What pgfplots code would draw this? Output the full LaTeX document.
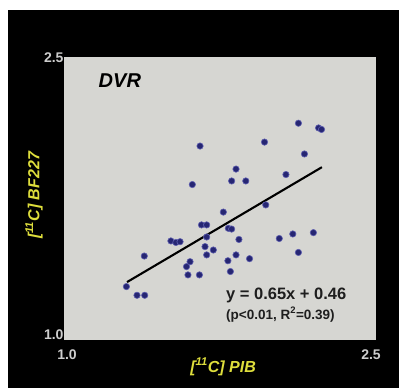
\documentclass[border=0pt]{standalone}
\usepackage{pgfplots}
\pgfplotsset{compat=1.18}
\usepackage{fontspec}
\setmainfont{Liberation Sans}
\definecolor{plotgray}{RGB}{214,214,210}
\definecolor{dotblue}{RGB}{38,38,115}
\definecolor{dotedge}{RGB}{95,95,175}
\definecolor{labyellow}{RGB}{222,222,60}
\definecolor{ticklab}{RGB}{205,205,205}
\definecolor{eqtext}{RGB}{30,30,30}
\begin{document}
\begin{tikzpicture}[x=1pt,y=1pt]
\fill[white] (0,0) rectangle (399,388);
\fill[black] (8,0) rectangle (399,378);
\begin{axis}[
  at={(64pt,48pt)}, anchor=south west,
  scale only axis, width=312pt, height=283pt,
  xmin=1, xmax=2.5, ymin=1, ymax=2.5,
  axis background/.style={fill=plotgray},
  axis line style={draw=none},
  major tick length=0pt,
  xtick={1.0144,2.476}, xticklabels={1.0,2.5},
  ytick={1.0265,2.495}, yticklabels={1.0,2.5},
  tick label style={font=\fontsize{14}{16}\selectfont\bfseries, text=ticklab},
  xticklabel style={yshift=-6pt},
  yticklabel style={xshift=3pt},
  xlabel={\textit{[\textsuperscript{11}C] PIB}},
  ylabel={\textit{[\textsuperscript{11}C] BF227}},
  label style={font=\fontsize{16}{18}\selectfont\bfseries, text=labyellow},
  xlabel style={at={(axis description cs:0.51,-0.095)}, anchor=center},
  ylabel style={at={(axis description cs:-0.096,0.512)}, anchor=center},
  clip=false,
]
\addplot[only marks, mark=*, mark size=3.2pt, mark options={fill=dotblue, draw=dotedge, line width=0.6pt}] coordinates {
(2.127,2.149) (2.224,2.124) (2.238,2.116) (1.654,2.028) (1.964,2.049)
(2.156,1.986) (1.827,1.906) (1.806,1.843) (1.874,1.843) (2.067,1.877)
(1.617,1.824) (1.766,1.678) (1.970,1.716) (1.661,1.610) (1.686,1.610)
(1.790,1.592) (1.806,1.588) (1.514,1.525) (1.538,1.517) (1.558,1.521)
(1.686,1.546) (1.678,1.495) (1.718,1.477) (1.686,1.451) (1.841,1.533)
(2.035,1.538) (2.100,1.562) (2.199,1.569) (1.386,1.445) (1.827,1.451)
(1.788,1.420) (1.892,1.431) (2.127,1.464) (1.606,1.415) (1.589,1.389)
(1.800,1.363) (1.596,1.345) (1.651,1.345) (1.300,1.283) (1.351,1.237)
(1.388,1.237)
};
\addplot[black, line width=2.1pt] coordinates {(1.303,1.307) (2.240,1.916)};
\node[anchor=center, font=\fontsize{20}{22}\selectfont\bfseries\itshape] at (axis description cs:0.179,0.917) {DVR};
\node[anchor=west, inner sep=0pt, text=eqtext, font=\fontsize{16.5}{18}\selectfont\bfseries] at (axis description cs:0.519,0.159) {y = 0.65x + 0.46};
\node[anchor=west, inner sep=0pt, text=eqtext, font=\fontsize{13.5}{15}\selectfont\bfseries] at (axis description cs:0.519,0.090) {(p<0.01, R\textsuperscript{2}=0.39)};
\end{axis}
\end{tikzpicture}
\end{document}
